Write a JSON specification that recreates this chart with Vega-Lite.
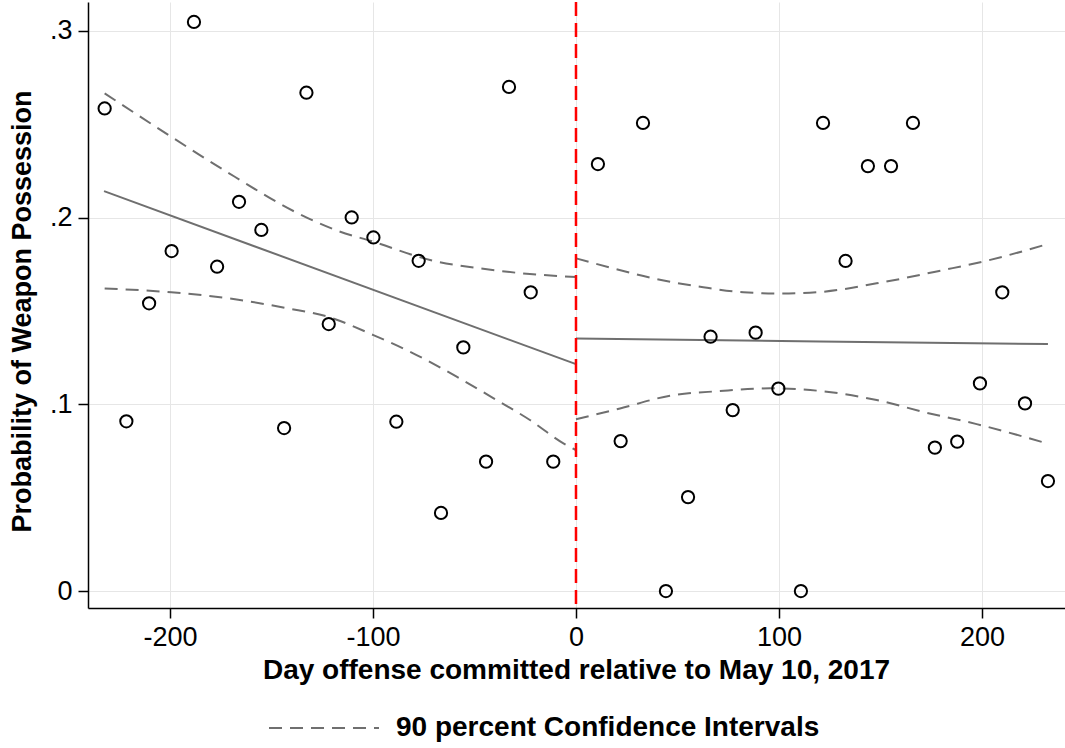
{
  "$schema": "https://vega.github.io/schema/vega-lite/v6.json",
  "autosize": {"type": "none"},
  "padding": {"left": 88, "top": 2, "right": 0, "bottom": 140},
  "width": 977,
  "height": 606,
  "background": "white",
  "config": {
    "view": {"stroke": null},
    "font": "Liberation Sans",
    "axis": {
      "domainColor": "black",
      "domainWidth": 1.5,
      "tickColor": "black",
      "tickWidth": 1.5,
      "tickSize": 10,
      "gridColor": "#e6e6e6",
      "gridWidth": 1,
      "labelFont": "Liberation Sans",
      "labelColor": "black",
      "labelFontSize": 27,
      "titleFont": "Liberation Sans",
      "titleFontWeight": "bold",
      "titleColor": "black",
      "titleFontSize": 27
    }
  },
  "datasets": {
    "points": [
      {"day": -232.2, "prob": 0.2585},
      {"day": -221.5, "prob": 0.0909},
      {"day": -210.3, "prob": 0.1541},
      {"day": -199.2, "prob": 0.1821},
      {"day": -188.2, "prob": 0.3048},
      {"day": -176.8, "prob": 0.1737},
      {"day": -166.0, "prob": 0.2085},
      {"day": -155.0, "prob": 0.1934},
      {"day": -143.8, "prob": 0.0873},
      {"day": -132.8, "prob": 0.2669},
      {"day": -121.8, "prob": 0.1430},
      {"day": -110.5, "prob": 0.2001},
      {"day": -99.8, "prob": 0.1894},
      {"day": -88.5, "prob": 0.0907},
      {"day": -77.5, "prob": 0.1769},
      {"day": -66.5, "prob": 0.0418},
      {"day": -55.5, "prob": 0.1305},
      {"day": -44.3, "prob": 0.0693},
      {"day": -33.0, "prob": 0.2700},
      {"day": -22.3, "prob": 0.1600},
      {"day": -11.2, "prob": 0.0693},
      {"day": 10.8, "prob": 0.2287},
      {"day": 22.0, "prob": 0.0803},
      {"day": 33.0, "prob": 0.2507},
      {"day": 44.3, "prob": 0.0},
      {"day": 55.2, "prob": 0.0503},
      {"day": 66.3, "prob": 0.1362},
      {"day": 77.2, "prob": 0.0969},
      {"day": 88.5, "prob": 0.1384},
      {"day": 99.7, "prob": 0.1084},
      {"day": 110.8, "prob": 0.0},
      {"day": 121.7, "prob": 0.2507},
      {"day": 132.8, "prob": 0.1768},
      {"day": 143.8, "prob": 0.2276},
      {"day": 155.2, "prob": 0.2276},
      {"day": 166.0, "prob": 0.2507},
      {"day": 176.8, "prob": 0.0768},
      {"day": 187.8, "prob": 0.0800},
      {"day": 199.0, "prob": 0.1112},
      {"day": 210.0, "prob": 0.1600},
      {"day": 221.2, "prob": 0.1005},
      {"day": 232.5, "prob": 0.0589}
    ],
    "fit": [
      {"seg": "left", "day": -232.5, "prob": 0.2142},
      {"seg": "left", "day": 0, "prob": 0.1215},
      {"seg": "right", "day": 0, "prob": 0.1353},
      {"seg": "right", "day": 120, "prob": 0.1336},
      {"seg": "right", "day": 232.5, "prob": 0.1323}
    ],
    "ci": [
      {"line": "LU", "series": "90 percent Confidence Intervals", "day": -232.2, "prob": 0.2666},
      {"line": "LU", "series": "90 percent Confidence Intervals", "day": -199.4, "prob": 0.2433},
      {"line": "LU", "series": "90 percent Confidence Intervals", "day": -168.1, "prob": 0.2219},
      {"line": "LU", "series": "90 percent Confidence Intervals", "day": -138.6, "prob": 0.2032},
      {"line": "LU", "series": "90 percent Confidence Intervals", "day": -117.5, "prob": 0.1930},
      {"line": "LU", "series": "90 percent Confidence Intervals", "day": -99.8, "prob": 0.1871},
      {"line": "LU", "series": "90 percent Confidence Intervals", "day": -71.9, "prob": 0.1773},
      {"line": "LU", "series": "90 percent Confidence Intervals", "day": -47.3, "prob": 0.1728},
      {"line": "LU", "series": "90 percent Confidence Intervals", "day": -22.7, "prob": 0.1698},
      {"line": "LU", "series": "90 percent Confidence Intervals", "day": 0, "prob": 0.1682},
      {"line": "LL", "series": "90 percent Confidence Intervals", "day": -232.2, "prob": 0.1621},
      {"line": "LL", "series": "90 percent Confidence Intervals", "day": -199.4, "prob": 0.1600},
      {"line": "LL", "series": "90 percent Confidence Intervals", "day": -171.5, "prob": 0.1568},
      {"line": "LL", "series": "90 percent Confidence Intervals", "day": -141.9, "prob": 0.1514},
      {"line": "LL", "series": "90 percent Confidence Intervals", "day": -122.2, "prob": 0.1469},
      {"line": "LL", "series": "90 percent Confidence Intervals", "day": -99.8, "prob": 0.1371},
      {"line": "LL", "series": "90 percent Confidence Intervals", "day": -78.5, "prob": 0.1264},
      {"line": "LL", "series": "90 percent Confidence Intervals", "day": -58.8, "prob": 0.1148},
      {"line": "LL", "series": "90 percent Confidence Intervals", "day": -39.1, "prob": 0.1023},
      {"line": "LL", "series": "90 percent Confidence Intervals", "day": -22.7, "prob": 0.0916},
      {"line": "LL", "series": "90 percent Confidence Intervals", "day": -6.2, "prob": 0.0791},
      {"line": "LL", "series": "90 percent Confidence Intervals", "day": 0, "prob": 0.0755},
      {"line": "RU", "series": "90 percent Confidence Intervals", "day": 0, "prob": 0.1782},
      {"line": "RU", "series": "90 percent Confidence Intervals", "day": 16.7, "prob": 0.1733},
      {"line": "RU", "series": "90 percent Confidence Intervals", "day": 38.1, "prob": 0.1675},
      {"line": "RU", "series": "90 percent Confidence Intervals", "day": 62.7, "prob": 0.1627},
      {"line": "RU", "series": "90 percent Confidence Intervals", "day": 82.4, "prob": 0.1600},
      {"line": "RU", "series": "90 percent Confidence Intervals", "day": 100.5, "prob": 0.1594},
      {"line": "RU", "series": "90 percent Confidence Intervals", "day": 119.5, "prob": 0.1601},
      {"line": "RU", "series": "90 percent Confidence Intervals", "day": 148.1, "prob": 0.1648},
      {"line": "RU", "series": "90 percent Confidence Intervals", "day": 180.9, "prob": 0.1719},
      {"line": "RU", "series": "90 percent Confidence Intervals", "day": 202.3, "prob": 0.1769},
      {"line": "RU", "series": "90 percent Confidence Intervals", "day": 231.9, "prob": 0.1857},
      {"line": "RL", "series": "90 percent Confidence Intervals", "day": 0, "prob": 0.0920},
      {"line": "RL", "series": "90 percent Confidence Intervals", "day": 21.7, "prob": 0.0978},
      {"line": "RL", "series": "90 percent Confidence Intervals", "day": 46.3, "prob": 0.1046},
      {"line": "RL", "series": "90 percent Confidence Intervals", "day": 70.9, "prob": 0.1071},
      {"line": "RL", "series": "90 percent Confidence Intervals", "day": 95.6, "prob": 0.1086},
      {"line": "RL", "series": "90 percent Confidence Intervals", "day": 119.8, "prob": 0.1072},
      {"line": "RL", "series": "90 percent Confidence Intervals", "day": 148.1, "prob": 0.1023},
      {"line": "RL", "series": "90 percent Confidence Intervals", "day": 172.7, "prob": 0.0955},
      {"line": "RL", "series": "90 percent Confidence Intervals", "day": 197.4, "prob": 0.0894},
      {"line": "RL", "series": "90 percent Confidence Intervals", "day": 231.9, "prob": 0.0791}
    ],
    "cutoff": [{"day": 0}]
  },
  "encoding": {
    "x": {
      "field": "day",
      "type": "quantitative",
      "scale": {"domain": [-240.4, 240.9], "nice": false, "zero": false},
      "axis": {
        "values": [-200, -100, 0, 100, 200],
        "labelExpr": "'' + datum.value",
        "title": "Day offense committed relative to May 10, 2017",
        "titleFontSize": 28,
        "labelPadding": 6,
        "titleX": 488,
        "titleY": 62,
        "titleBaseline": "middle",
        "titleAlign": "center"
      }
    },
    "y": {
      "field": "prob",
      "type": "quantitative",
      "scale": {"domain": [-0.0091, 0.3155], "nice": false, "zero": false},
      "axis": {
        "values": [0, 0.1, 0.2, 0.3],
        "labelExpr": "datum.value == 0 ? '0' : replace(format(datum.value, '.1f'), '0.', '.')",
        "labelPadding": 6,
        "title": "Probability of Weapon Possession",
        "titleX": -66,
        "titleY": 309,
        "titleAngle": -90,
        "titleBaseline": "middle",
        "titleAlign": "center"
      }
    }
  },
  "layer": [
    {
      "data": {"name": "ci"},
      "mark": {"type": "line", "color": "#6f6f6f", "strokeWidth": 2, "interpolate": "monotone"},
      "encoding": {
        "detail": {"field": "line"},
        "strokeDash": {
          "field": "series",
          "type": "nominal",
          "scale": {"domain": ["90 percent Confidence Intervals"], "range": [[13, 8]]},
          "legend": {
            "title": null,
            "orient": "none",
            "legendX": 180,
            "legendY": 670,
            "symbolType": "stroke",
            "symbolSize": 12100,
            "symbolStrokeColor": "#6f6f6f",
            "symbolStrokeWidth": 2,
            "labelFont": "Liberation Sans",
            "labelFontWeight": "bold",
            "labelFontSize": 28,
            "labelColor": "black",
            "labelLimit": 0,
            "labelOffset": 16
          }
        }
      }
    },
    {
      "data": {"name": "fit"},
      "mark": {"type": "line", "color": "#6f6f6f", "strokeWidth": 2},
      "encoding": {"detail": {"field": "seg"}}
    },
    {
      "data": {"name": "cutoff"},
      "mark": {"type": "rule", "color": "#ff0000", "strokeWidth": 2.5, "strokeDash": [14, 7]},
      "encoding": {"x": {"field": "day", "type": "quantitative"}, "y": null}
    },
    {
      "data": {"name": "points"},
      "mark": {"type": "point", "filled": false, "color": "black", "strokeWidth": 2, "size": 150, "opacity": 1}
    }
  ]
}
